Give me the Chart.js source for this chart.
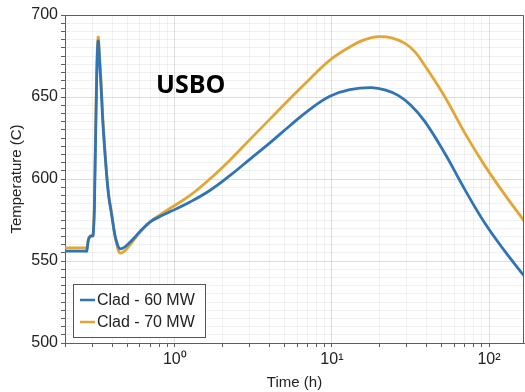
<!DOCTYPE html>
<html>
<head>
<meta charset="utf-8">
<script src="https://cdn.jsdelivr.net/npm/chart.js@4/dist/chart.umd.min.js"></script>
<style>
  html, body { margin: 0; padding: 0; background: #fff; }
  #wrap { width: 525px; height: 392px; }
</style>
</head>
<body>
<div id="wrap"><canvas id="c" width="525" height="392"></canvas></div>
<script>
// Cladding temperature transient, two core power levels
const seriesLabels = ['Clad - 60 MW', 'Clad - 70 MW'];
const seriesColors = ['#2f74b7', '#e3a634'];

const time60 = [0.2, 0.27, 0.275, 0.282, 0.29, 0.302, 0.31, 0.318, 0.325, 0.332, 0.341, 0.349, 0.367, 0.38, 0.395, 0.415, 0.43, 0.445, 0.47, 0.5, 0.55, 0.6, 0.7, 0.8, 0.93, 1.25, 1.67, 2.24, 3.0, 4.03, 5.4, 7.24, 9.71, 13.0, 17.9, 22, 26.4, 31.8, 39.1, 52.4, 70.2, 94.2, 126, 167];
const temp60 = [556, 556, 556, 563, 565, 565.5, 600, 660, 684, 672, 652, 633, 604, 589, 579, 566, 560.5, 557.5, 558, 560, 564, 568, 574, 577, 580, 586, 593, 602, 612, 622, 632.5, 642.5, 650.5, 654.5, 655.7, 654.2, 651, 645, 635, 615.5, 593.5, 573, 556, 541];

const time70 = [0.2, 0.27, 0.276, 0.283, 0.29, 0.302, 0.31, 0.318, 0.325, 0.332, 0.341, 0.349, 0.367, 0.38, 0.395, 0.415, 0.43, 0.445, 0.47, 0.5, 0.55, 0.6, 0.7, 0.8, 0.93, 1.25, 1.67, 2.24, 3.0, 4.03, 5.4, 7.24, 9.71, 13.0, 16, 19.7, 24, 29.2, 33.8, 39.1, 52.4, 70.2, 94.2, 126, 167];
const temp70 = [558, 558, 558, 564, 565.5, 566, 605, 665, 686.5, 675, 656, 636, 605, 590, 580, 566, 559, 555, 555.5, 558, 563, 567.5, 574, 578, 582, 590, 600, 611.5, 624, 636.5, 649, 661, 672.5, 680.5, 684.8, 686.8, 686, 682.7, 677.5, 669, 650, 628, 608, 590.5, 574.5];

// Axis ranges and tick labels
const xRange = [0.2, 167];
const yRange = [500, 700];
const xDecades = [0.1, 1, 10, 100];
const xTickLabels = { 1: '10\u2070', 10: '10\u00B9', 100: '10\u00B2' };
const yStep = 5;
const yLabelStep = 50;
const plotTitle = 'USBO';

const pairs = (xs, ys) => xs.map((x, i) => ({ x: x, y: ys[i] }));

const TEXT = '#222';
const AXIS = '#5e5e5e';
const FONT = '"Liberation Sans", Arial, Helvetica, sans-serif';

function isDecade(v) {
  const l = Math.log10(v);
  return Math.abs(l - Math.round(l)) < 1e-9;
}

const framePlugin = {
  id: 'frameAndNotes',
  afterDatasetsDraw(chart) {
    const { ctx, chartArea: a } = chart;
    ctx.save();
    // top and right edges of the plot box
    ctx.strokeStyle = AXIS;
    ctx.lineWidth = 1;
    ctx.beginPath();
    ctx.moveTo(a.left, a.top + 0.5);
    ctx.lineTo(a.right - 0.5, a.top + 0.5);
    ctx.lineTo(a.right - 0.5, a.bottom);
    ctx.stroke();

    // plot annotation
    ctx.fillStyle = '#000';
    ctx.font = 'bold 25px "Open Sans", "Noto Sans", sans-serif';
    ctx.textBaseline = 'alphabetic';
    ctx.textAlign = 'left';
    ctx.fillText(plotTitle, a.left + 91, a.top + 78);

    // legend box
    const lx = a.left + 8, ly = a.top + 269, lw = 132, lh = 53;
    ctx.fillStyle = '#fff';
    ctx.fillRect(lx, ly, lw, lh);
    ctx.strokeStyle = '#555';
    ctx.strokeRect(lx + 0.5, ly + 0.5, lw, lh);
    ctx.font = '16px ' + FONT;
    ctx.textBaseline = 'middle';
    chart.data.datasets.forEach((ds, i) => {
      const cy = ly + 16 + i * 22;
      ctx.strokeStyle = ds.borderColor;
      ctx.lineWidth = 2.5;
      ctx.beginPath();
      ctx.moveTo(lx + 7, cy);
      ctx.lineTo(lx + 22, cy);
      ctx.stroke();
      ctx.fillStyle = TEXT;
      ctx.fillText(ds.label, lx + 24, cy + 1);
    });
    ctx.restore();
  }
};

new Chart(document.getElementById('c'), {
  type: 'line',
  data: {
    datasets: [
      { label: seriesLabels[0], data: pairs(time60, temp60), borderColor: seriesColors[0] },
      { label: seriesLabels[1], data: pairs(time70, temp70), borderColor: seriesColors[1] }
    ]
  },
  options: {
    responsive: false,
    animation: false,
    devicePixelRatio: 1,
    parsing: false,
    layout: { padding: { top: 15, right: 1, left: 0, bottom: 0 } },
    elements: {
      point: { radius: 0 },
      line: { borderWidth: 2.8, tension: 0.4, fill: false }
    },
    plugins: { legend: { display: false }, tooltip: { enabled: false } },
    scales: {
      x: {
        type: 'logarithmic',
        min: xRange[0],
        max: xRange[1],
        afterBuildTicks(scale) {
          const t = [];
          xDecades.forEach(d => {
            for (let k = 1; k <= 9; k++) {
              const v = +(d * k).toPrecision(6);
              if (v >= xRange[0] - 1e-9 && v <= xRange[1]) t.push({ value: v, major: k === 1 });
            }
          });
          scale.ticks = t;
        },
        afterFit(scale) { scale.height = 49; },
        ticks: {
          autoSkip: false,
          maxRotation: 0,
          padding: 3,
          color: TEXT,
          font: { family: FONT, size: 16 },
          callback: (v) => xTickLabels[v] || ''
        },
        grid: {
          color: (c) => (c.tick && isDecade(c.tick.value)) ? 'rgba(0,0,0,0.13)' : 'rgba(0,0,0,0.055)',
          tickColor: AXIS,
          tickLength: 4,
          lineWidth: 1
        },
        border: { color: AXIS, width: 1 },
        title: {
          display: true,
          text: 'Time (h)',
          color: TEXT,
          font: { family: FONT, size: 15 },
          padding: { top: 0, bottom: 0 }
        }
      },
      y: {
        type: 'linear',
        min: yRange[0],
        max: yRange[1],
        afterBuildTicks(scale) {
          const t = [];
          for (let v = yRange[0]; v <= yRange[1]; v += yStep) t.push({ value: v });
          scale.ticks = t;
        },
        afterFit(scale) { scale.width = 65; },
        ticks: {
          autoSkip: false,
          padding: 3,
          color: TEXT,
          font: { family: FONT, size: 16 },
          callback: (v) => (v % yLabelStep === 0 ? String(v) : '')
        },
        grid: {
          color: (c) => (c.tick && c.tick.value % yLabelStep === 0) ? 'rgba(0,0,0,0.13)' : 'rgba(0,0,0,0.055)',
          tickColor: AXIS,
          tickLength: 4,
          lineWidth: 1
        },
        border: { color: AXIS, width: 1 },
        title: {
          display: true,
          text: 'Temperature (C)',
          color: TEXT,
          font: { family: FONT, size: 15 },
          padding: { top: 8, bottom: 0 }
        }
      }
    }
  },
  plugins: [framePlugin]
});
</script>
</body>
</html>
